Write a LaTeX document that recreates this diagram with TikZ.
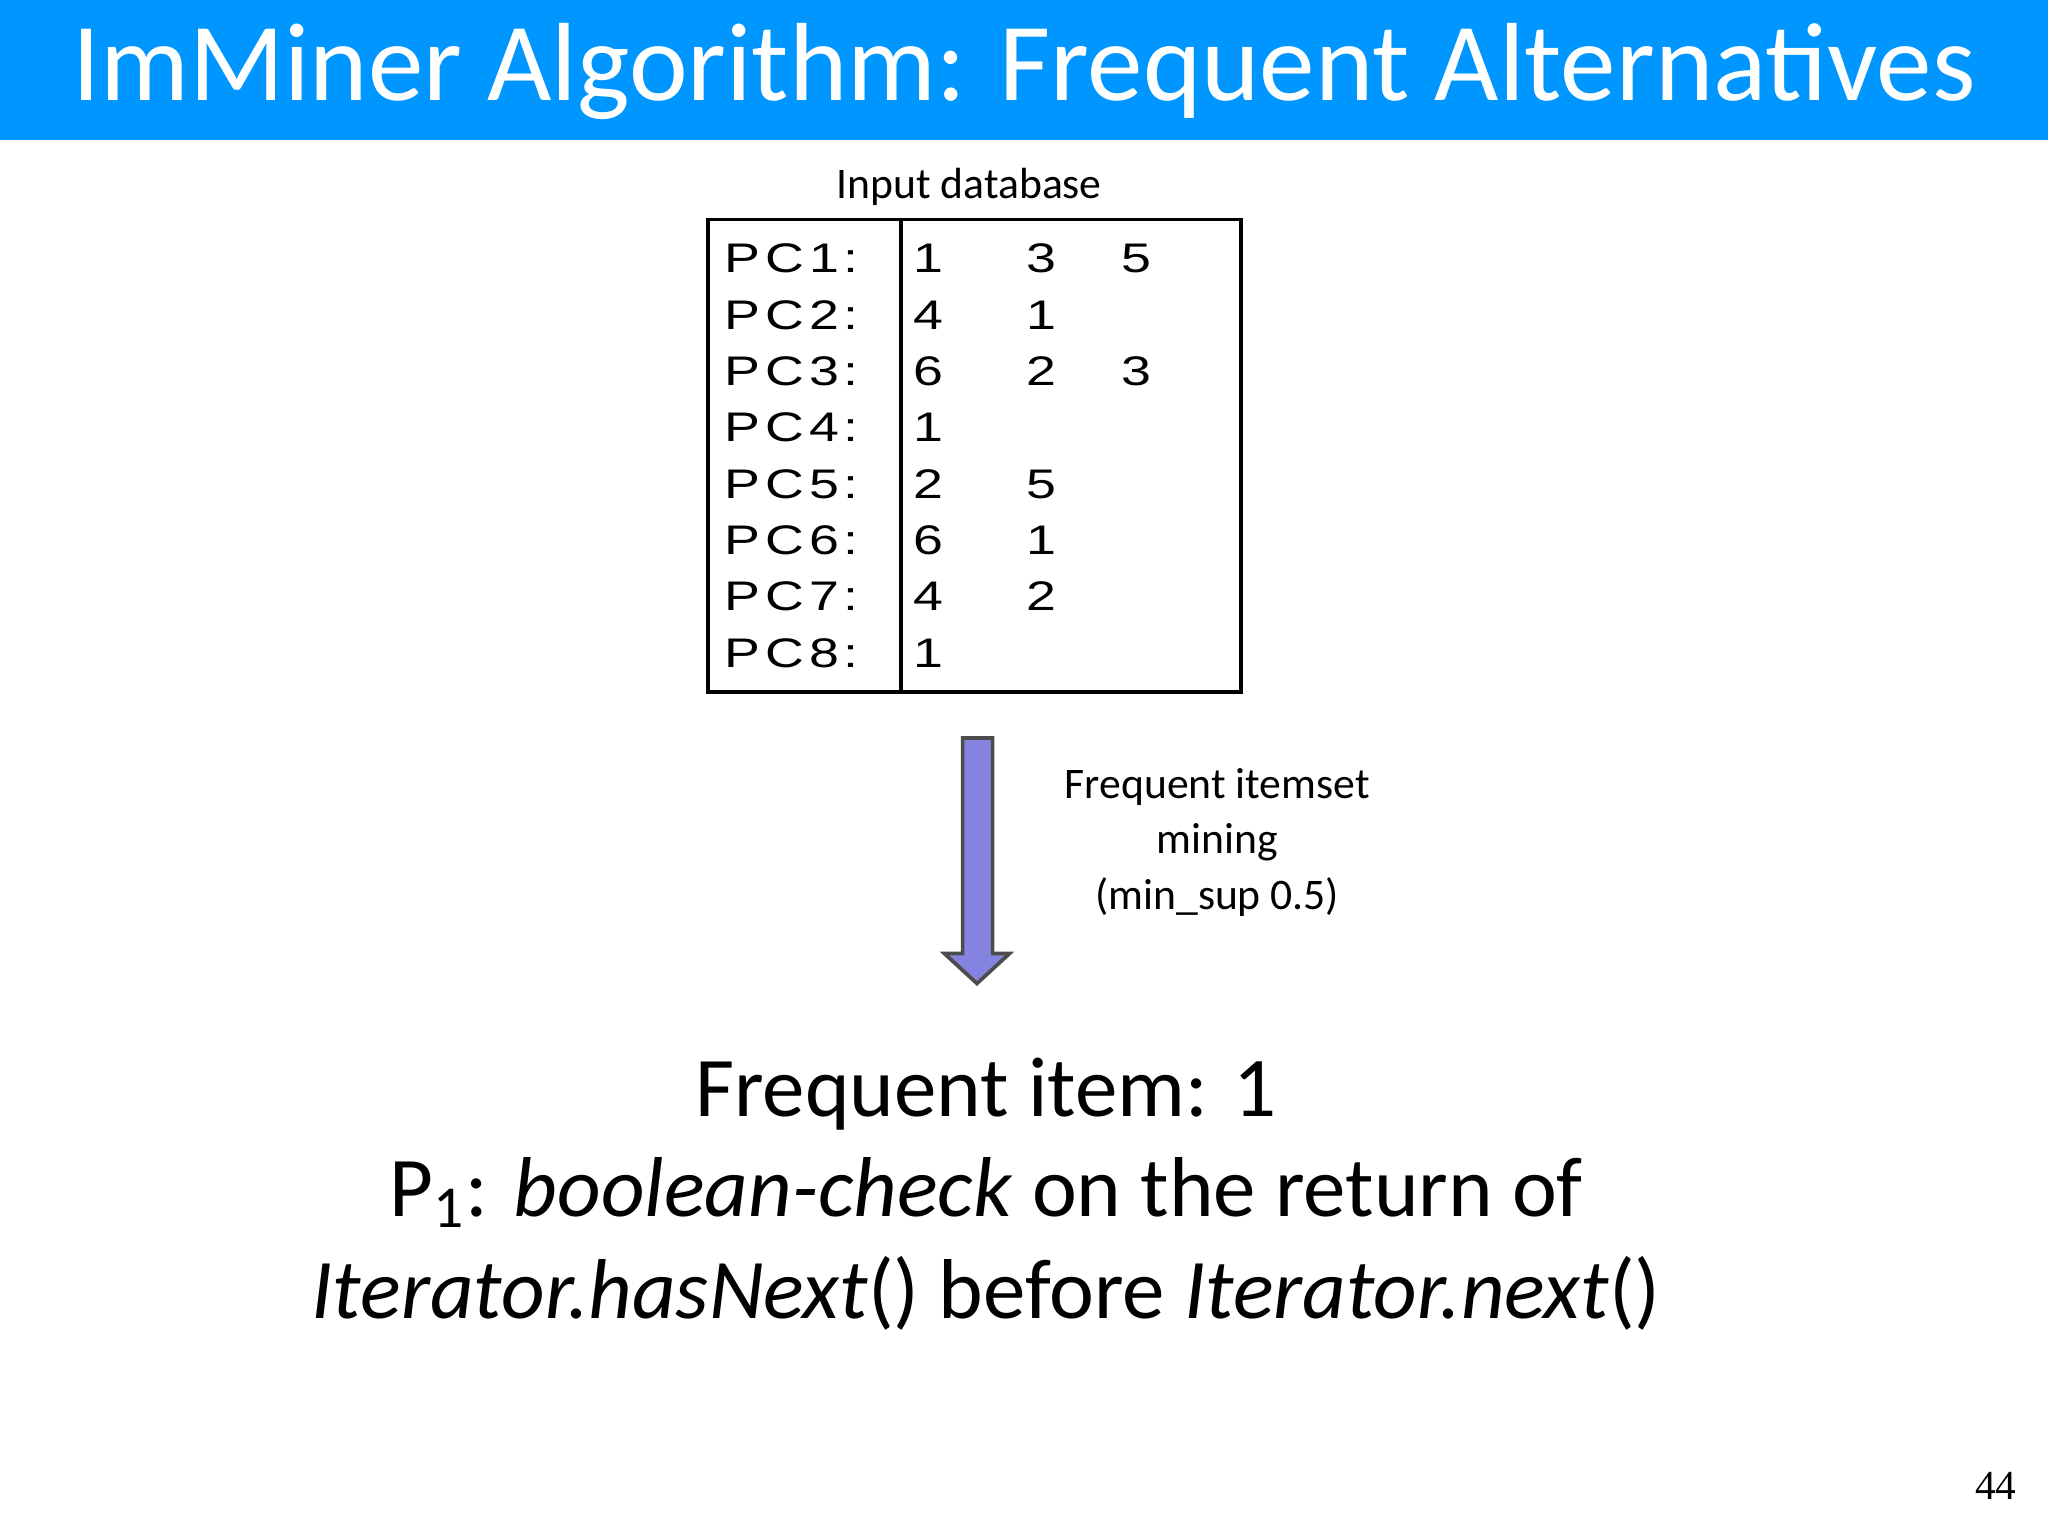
\documentclass[tikz,border=0pt]{standalone}
\usepackage{fontspec}
\setmainfont{Carlito}
\newfontfamily\wide[FakeStretch=1.3,LetterSpace=12]{Liberation Sans}
\definecolor{titleblue}{RGB}{0,150,255}
\definecolor{arrowfill}{RGB}{132,132,224}
\begin{document}
\begin{tikzpicture}[x=0.01cm,y=-0.01cm,
  cell/.style={font=\wide\fontsize{9}{10}\selectfont,anchor=base},
  lbl/.style={font=\fontsize{9.5}{11}\selectfont}]
\useasboundingbox (0,0) rectangle (1568,1176);
\fill[titleblue] (0,0) rectangle (1568,107);
\node[text=white,font=\fontsize{24.2}{30}\selectfont] (title) at (784,55) {ImMiner Algorithm: Frequent Alternatives};
\node[lbl] (inlbl) at (742,143) {Input database};
\draw[thick] (542,168) rectangle (950,530);
\draw[thick] (690,168) -- (690,530);
\foreach \i/\a/\b/\c in {1/1/3/5,2/4/1/,3/6/2/3,4/1//,5/2/5/,6/6/1/,7/4/2/,8/1//}{
  \pgfmathsetmacro\yy{209+43.1*(\i-1)}
  \node[cell,anchor=base west,inner sep=0pt] (pc\i) at (554,\yy) {PC\i:};
  \node[cell] (a\i) at (711,\yy) {\a};
  \node[cell] (b\i) at (797,\yy) {\b};
  \node[cell] (c\i) at (870,\yy) {\c};
}
\draw[fill=arrowfill,draw=black!70,thick] (737,565) -- (760,565) -- (760,730) -- (773,730) -- (748,753) -- (723,730) -- (737,730) -- cycle;
\node[lbl,align=center] (mine) at (932,645) {Frequent itemset\\[1pt]mining\\[1pt](min\_sup 0.5)};
\node[font=\fontsize{18.5}{22}\selectfont] (l1) at (755,838) {Frequent item: 1};
\node[font=\fontsize{18.5}{22}\selectfont] (l2) at (755,913) {P\textsubscript{1}: \textit{boolean-check} on the return of};
\node[font=\fontsize{18.5}{22}\selectfont] (l3) at (755,990) {\textit{Iterator.hasNext}() before \textit{Iterator.next}()};
\node[font=\fontsize{9}{11}\selectfont\fontspec{Liberation Serif}] (pg) at (1528,1138) {44};
\end{tikzpicture}
\end{document}
